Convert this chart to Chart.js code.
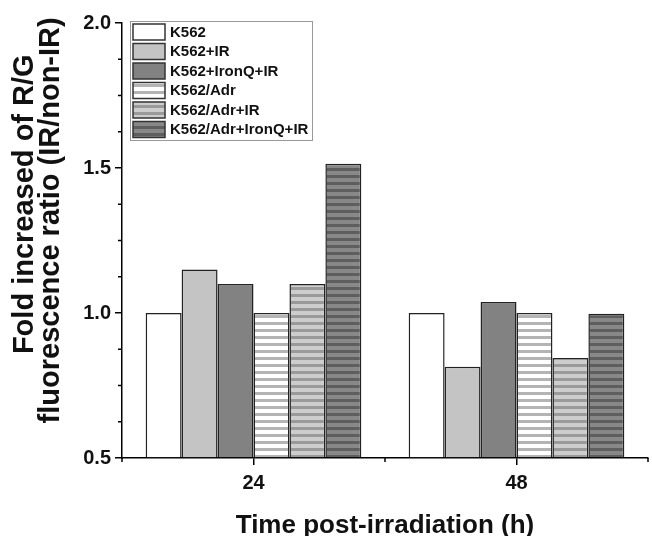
<!DOCTYPE html>
<html>
<head>
<meta charset="utf-8">
<script src="https://cdn.jsdelivr.net/npm/chart.js@4.4.1/dist/chart.umd.min.js"></script>
<style>
  html, body { margin: 0; background: #fff; }
  #wrap { width: 652px; height: 536px; }
</style>
</head>
<body>
<div id="wrap"><canvas id="myChart" width="652" height="536"></canvas></div>
<script>
const categories = ['24', '48'];
const seriesNames = ['K562', 'K562+IR', 'K562+IronQ+IR', 'K562/Adr', 'K562/Adr+IR', 'K562/Adr+IronQ+IR'];
const k562 = [1.00, 1.00];
const k562IR = [1.15, 0.815];
const k562IronQIR = [1.10, 1.038];
const k562Adr = [1.00, 1.00];
const k562AdrIR = [1.10, 0.845];
const k562AdrIronQIR = [1.515, 0.997];
const yMin = 0.5, yMax = 2.0, yStep = 0.5, yMinorStep = 0.125;

const FONT = "'Liberation Sans', Arial, sans-serif";

// horizontal hatch like the original figure
function stripes(bg, line) {
  const c = document.createElement('canvas');
  c.width = 8; c.height = 7;
  const cx = c.getContext('2d');
  cx.fillStyle = bg; cx.fillRect(0, 0, 8, 7);
  cx.fillStyle = line; cx.fillRect(0, 0, 8, 3);
  return cx.createPattern(c, 'repeat');
}

const fills = [
  '#ffffff',
  '#c4c4c4',
  '#828282',
  stripes('#ffffff', '#b4b4b4'),
  stripes('#cdcdcd', '#9a9a9a'),
  stripes('#888888', '#5e5e5e'),
];
const allSeries = [k562, k562IR, k562IronQIR, k562Adr, k562AdrIR, k562AdrIronQIR];

// legend in a box inside the plot, top-left
const boxLegend = {
  id: 'boxLegend',
  afterDraw(chart) {
    const { ctx, chartArea } = chart;
    const x0 = chartArea.left + 8, y0 = chartArea.top - 2;
    ctx.save();
    ctx.fillStyle = '#fff';
    ctx.fillRect(x0, y0, 182, 119);
    ctx.strokeStyle = '#999';
    ctx.lineWidth = 1;
    ctx.strokeRect(x0 + 0.5, y0 + 0.5, 182, 119);
    chart.data.datasets.forEach((ds, i) => {
      const y = y0 + 3 + i * 19.5;
      ctx.fillStyle = ds.backgroundColor;
      ctx.fillRect(x0 + 3, y, 32, 16);
      ctx.strokeStyle = '#333';
      ctx.lineWidth = 1.5;
      ctx.strokeRect(x0 + 3, y, 32, 16);
      ctx.fillStyle = '#111';
      ctx.font = 'bold 15px ' + FONT;
      ctx.textBaseline = 'middle';
      ctx.fillText(ds.label, x0 + 40, y + 8.5);
    });
    ctx.restore();
  }
};

// short minor ticks on both axes
const minorTicks = {
  id: 'minorTicks',
  afterDraw(chart) {
    const { ctx, scales } = chart;
    const x = scales.x, y = scales.y;
    ctx.save();
    ctx.strokeStyle = '#000';
    ctx.lineWidth = 1.5;
    ctx.beginPath();
    for (let v = yMin; v <= yMax + 1e-9; v += yMinorStep) {
      if (Math.abs(v / yStep - Math.round(v / yStep)) < 1e-6) continue;
      const py = y.getPixelForValue(v);
      ctx.moveTo(y.right - 4, py);
      ctx.lineTo(y.right, py);
    }
    for (let i = -0.5; i <= categories.length - 0.5; i += 1) {
      const px = x.getPixelForValue(i);
      ctx.moveTo(px, x.top);
      ctx.lineTo(px, x.top + 4);
    }
    ctx.stroke();
    ctx.restore();
  }
};

const chart = new Chart(document.querySelector('#myChart'), {
  type: 'bar',
  data: {
    labels: categories,
    datasets: seriesNames.map((name, i) => ({
      label: name,
      data: allSeries[i],
      base: yMin,
      backgroundColor: fills[i],
      borderColor: '#222',
      borderWidth: 1.5,
      categoryPercentage: 0.82,
      barPercentage: 1.0,
    })),
  },
  options: {
    responsive: false,
    animation: false,
    layout: { padding: { top: 23, right: 4, left: 0, bottom: 0 } },
    plugins: {
      legend: { display: false },
      tooltip: { enabled: false },
    },
    scales: {
      x: {
        offset: true,
        grid: { display: true, drawOnChartArea: false, offset: false, tickLength: 7, color: '#000', lineWidth: 1.5 },
        border: { color: '#000', width: 1.5 },
        ticks: { color: '#111', font: { family: FONT, size: 20, weight: 'bold' }, padding: 6 },
        title: {
          display: true,
          text: 'Time post-irradiation (h)',
          color: '#111',
          font: { family: FONT, size: 26, weight: 'bold', lineHeight: 0.8 },
          padding: { top: 0, bottom: 0 },
        },
        afterFit(scale) { scale.height = 78; },
      },
      y: {
        min: yMin,
        max: yMax,
        grid: { display: true, drawOnChartArea: false, tickLength: 7, color: '#000', lineWidth: 1.5 },
        border: { color: '#000', width: 1.5 },
        ticks: {
          stepSize: yStep,
          color: '#111',
          font: { family: FONT, size: 20, weight: 'bold' },
          padding: 4,
          callback: v => v.toFixed(1),
        },
        title: {
          display: true,
          // leading spaces nudge the lines upward like in the original
          text: ['         Fold increased of R/G', '     fluorescence ratio (IR/non-IR)'],
          color: '#111',
          font: { family: FONT, size: 29, weight: 'bold', lineHeight: 0.9 },
          padding: { top: 12, bottom: 0 },
        },
        afterFit(scale) { scale.width = 122; },
      },
    },
  },
  plugins: [minorTicks, boxLegend],
});
</script>
</body>
</html>
